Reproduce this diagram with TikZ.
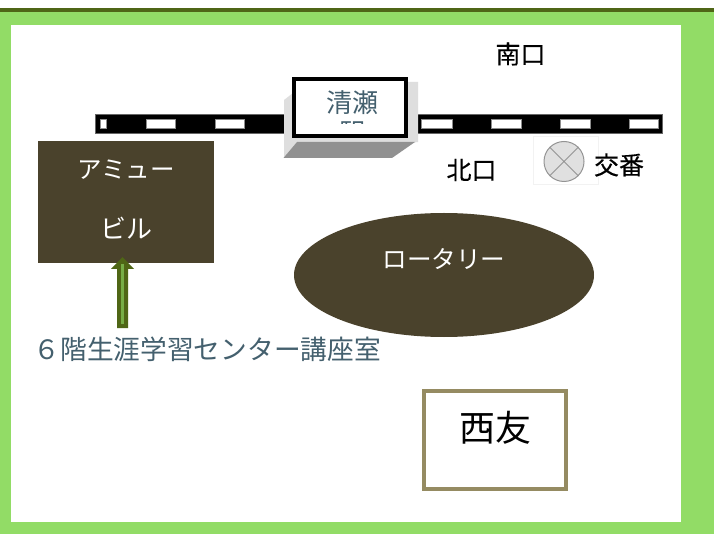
\documentclass[tikz,border=0pt]{standalone}
\usepackage{fontspec}
\setmainfont{Noto Sans CJK JP}
\newfontfamily\medf[FakeBold=0.25]{Noto Sans CJK JP}
\usetikzlibrary{arrows.meta,shapes.geometric}
\definecolor{grn}{HTML}{92DC66}
\definecolor{dkgrn}{HTML}{4F6616}
\definecolor{brn}{HTML}{4A422C}
\definecolor{slate}{HTML}{44606E}
\definecolor{tan}{HTML}{958B62}
\tikzset{
  lbl/.style={inner sep=0pt,font=\fontsize{#1}{#1}\selectfont},
  lbl/.default=22,
  blbl/.style={inner sep=0pt,font=\medf\fontsize{#1}{#1}\selectfont},
  wlbl/.style={lbl=#1,text=white},
  rail/.style={fill=black,draw=black!60,line width=.6pt},
  tie/.style={fill=white,draw=black!45,line width=.4pt},
}
\begin{document}
\begin{tikzpicture}[x=1pt,y=-1pt]
\useasboundingbox (0,0) rectangle (714,534);
\fill[white] (0,0) rectangle (714,534);
\fill[grn] (0,12) rectangle (714,534);
\fill[dkgrn] (0,8) rectangle (714,12);
\fill[white] (11,25) rectangle (681,522);
% rails
\draw[rail] (95,114) rectangle (286,133);
\draw[rail] (417,114) rectangle (662,133);
\foreach \a/\b in {100/106,146/175,215/244,421/452,491/521,560/590,629/658}
  \draw[tie] (\a,119) rectangle (\b,128);
% station
\fill[black!13] (284,100) -- (293,93) -- (293,82) -- (418,82) -- (418,142) -- (284,157) -- cycle;
\fill[black!43] (283.5,158) -- (297,142) -- (415,142) -- (392,158) -- cycle;
\fill[black] (292,77) rectangle (408,138);
\fill[white] (296,81) rectangle (404,134);
\node[lbl=26,text=slate] (kiyose) at (352.5,103) {清瀬};
\begin{scope}
\clip (296,119.5) rectangle (404,124);
\node[lbl=26,text=slate] (eki) at (352,133) {駅};
\end{scope}
% Amuse building
\node[fill=brn,minimum width=176pt,minimum height=122pt,inner sep=0pt,anchor=north west] (bldg) at (38,141) {};
\node[wlbl=24.5] (amu) at (126,170) {アミュー};
\node[wlbl=26] (biru) at (126,228) {ビル};
% arrow
\fill[dkgrn] (117,328) -- (117,269) -- (111,269) -- (122.5,257) -- (134,269) -- (128,269) -- (128,328) -- cycle;
\fill[grn!60!dkgrn] (120.5,324) rectangle (124,264);
% label
\node[lbl=26.7,text=slate,anchor=west] (floor) at (33.5,349) {６階生涯学習センター講座室};
% rotary
\node[ellipse,fill=brn,minimum width=300pt,minimum height=124pt,inner sep=0pt] (rot) at (444,275) {};
\node[wlbl=24.6] (rotl) at (444,259) {ロータリー};
% labels
\node[blbl=25] (south) at (520.5,54) {南口};
\node[blbl=25] (north) at (471.5,170) {北口};
% koban
\draw[black!5,line width=.4pt] (533,136) rectangle (598,184);
\node[circle,draw=black!42,fill=black!12,line width=1pt,minimum size=40pt,inner sep=0pt] (kb) at (564,161.5) {};
\draw[black!42,line width=1pt] (kb.45) -- (kb.225) (kb.135) -- (kb.315);
\node[blbl=25] (kobanl) at (619,165) {交番};
% Seiyu
\node[draw=tan,line width=3.5pt,minimum width=142pt,minimum height=98pt,inner sep=0pt,anchor=north west,fill=white] (seiyu) at (422,389) {};
\node[lbl=36] (seiyul) at (495.5,428) {西友};
\end{tikzpicture}
\end{document}
